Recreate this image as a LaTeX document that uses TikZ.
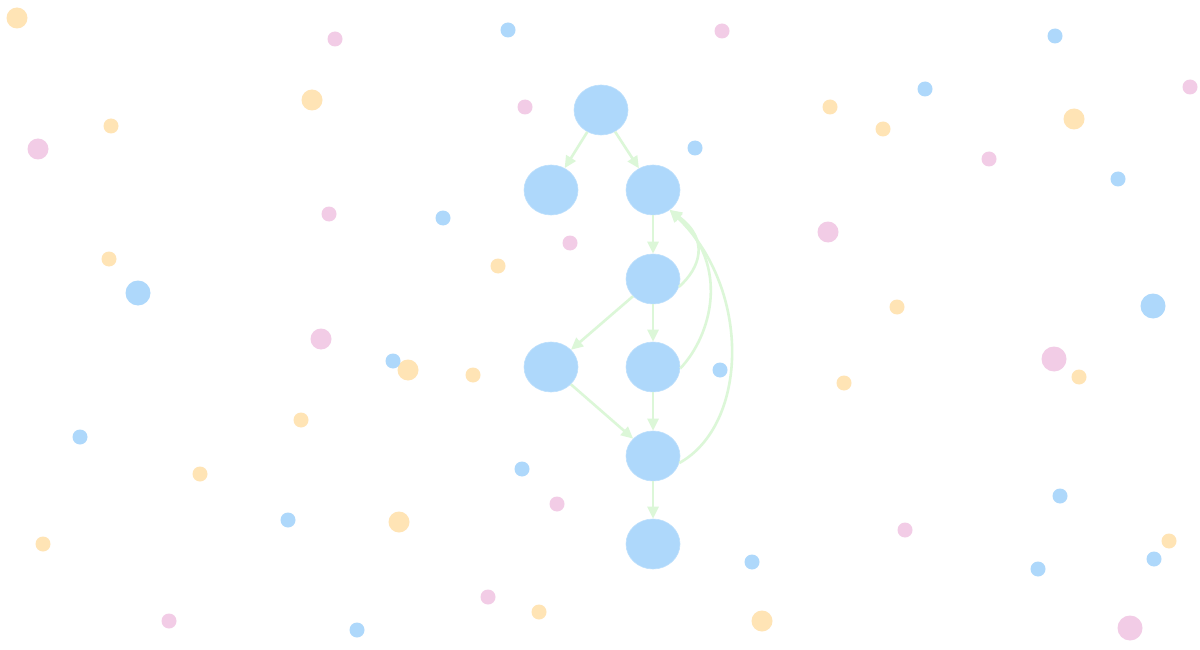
\documentclass[tikz,border=0pt]{standalone}
\usepackage{tikz}
\usetikzlibrary{arrows.meta,shapes.geometric}
\definecolor{nodeblue}{HTML}{AED8FB}
\definecolor{edgegreen}{HTML}{DCF7D8}
\definecolor{dotpeach}{HTML}{FFE4B5}
\definecolor{dotpink}{HTML}{F2CCE6}

\begin{document}
\begin{tikzpicture}[x=1pt,y=-1pt,
  vx/.style={ellipse,fill=nodeblue,draw=nodeblue!80!white,line width=0.6pt,minimum width=54pt,minimum height=50pt,inner sep=0pt},
  link/.style={draw=edgegreen,line width=2.6pt,-{Triangle[length=12pt,width=11pt]}},
]
\useasboundingbox[fill=white] (0,0) rectangle (1200,650);
% background dots
\foreach \x/\y/\r in {17/18/10.5,312/100/10.5,111/126/7.5,109/259/7.5,498/266/7.5,408/370/10.5,
  473/375/7.5,301/420/7.5,200/474/7.5,399/522/10.5,43/544/7.5,539/612/7.5,762/621/10.5,
  830/107/7.5,883/129/7.5,1074/119/10.5,897/307/7.5,844/383/7.5,1079/377/7.5,1169/541/7.5}
  \fill[dotpeach] (\x,\y) circle (\r);
\foreach \x/\y/\r in {335/39/7.5,525/107/7.5,722/31/7.5,38/149/10.5,329/214/7.5,570/243/7.5,
  321/339/10.5,557/504/7.5,488/597/7.5,169/621/7.5,828/232/10.5,989/159/7.5,1190/87/7.5,
  1054/359/12.5,905/530/7.5,1130/628/12.5}
  \fill[dotpink] (\x,\y) circle (\r);
\foreach \x/\y/\r in {508/30/7.5,695/148/7.5,443/218/7.5,138/293/12.5,393/361/7.5,720/370/7.5,
  80/437/7.5,522/469/7.5,288/520/7.5,357/630/7.5,752/562/7.5,925/89/7.5,1055/36/7.5,
  1118/179/7.5,1153/306/12.5,1060/496/7.5,1038/569/7.5,1154/559/7.5}
  \fill[nodeblue] (\x,\y) circle (\r);
% graph nodes
\node[vx] (a) at (601,110) {};
\node[vx] (b) at (551,190) {};
\node[vx] (c) at (653,190) {};
\node[vx] (d) at (653,279) {};
\node[vx] (e) at (551,367) {};
\node[vx] (f) at (653,367) {};
\node[vx] (g) at (653,456) {};
\node[vx] (h) at (653,544) {};
% straight links
\draw[link] (a) -- (b);
\draw[link] (a) -- (c);
\draw[link] (c) -- (d);
\draw[link] (d) -- (e);
\draw[link] (d) -- (f);
\draw[link] (e) -- (g);
\draw[link] (f) -- (g);
\draw[link] (g) -- (h);
% back links into c
\draw[link] (d.-17) .. controls (700,268) and (710,240) .. (c.-50);
\draw[link] (f.-3) .. controls (712,335) and (730,265) .. (c.-50);
\draw[link] (g.-15) .. controls (748,425) and (752,290) .. (c.-50);
\end{tikzpicture}
\end{document}
